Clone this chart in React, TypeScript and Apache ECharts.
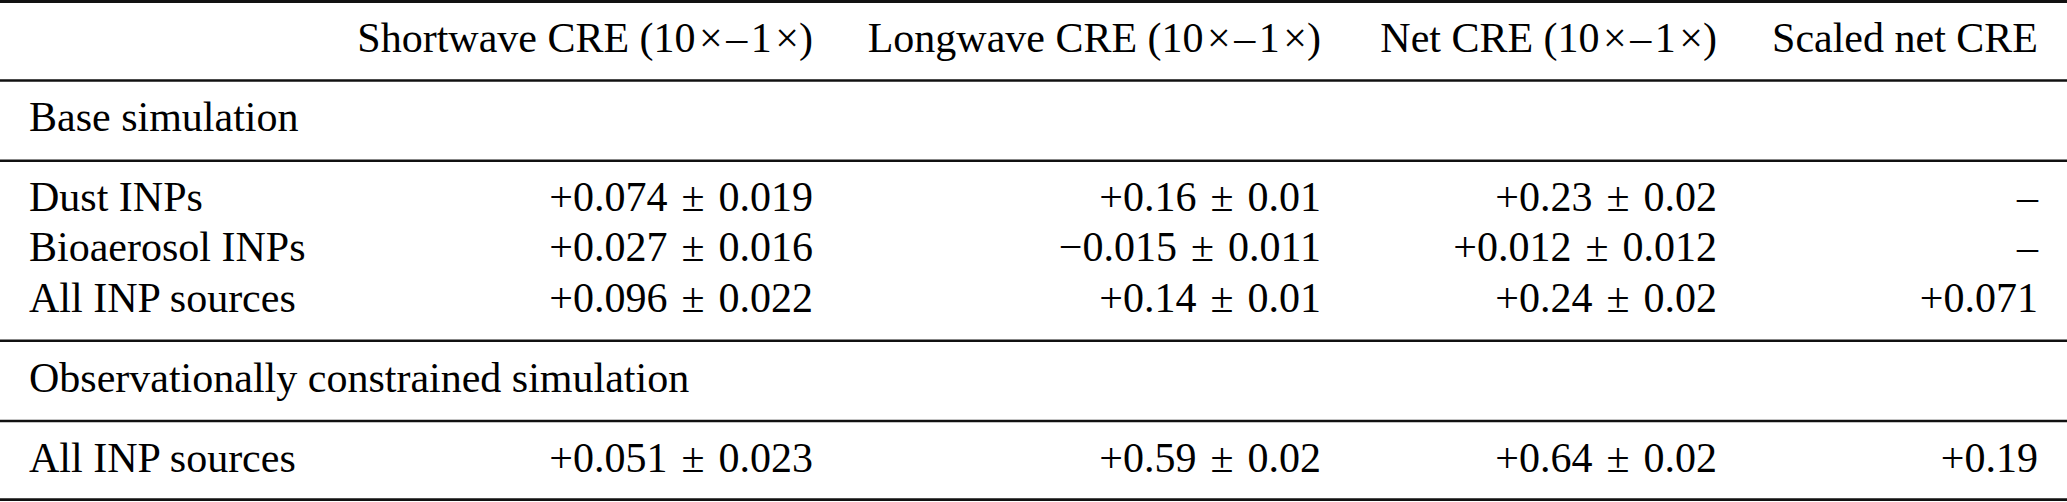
import React, { useEffect, useRef } from "react";
import * as echarts from "echarts";

// ---- Table content ----
const HS = "\u200A"; // hair space (math-style spacing)
const columnHeaders = [
  `Shortwave CRE (10${HS}×${HS}–${HS}1${HS}×)`,
  `Longwave CRE (10${HS}×${HS}–${HS}1${HS}×)`,
  `Net CRE (10${HS}×${HS}–${HS}1${HS}×)`,
  "Scaled net CRE",
];
const sectionTitles = ["Base simulation", "Observationally constrained simulation"];
const baseRowLabels = ["Dust INPs", "Bioaerosol INPs", "All INP sources"];
const obsRowLabels = ["All INP sources"];

const baseShortwaveMean = ["+0.074", "+0.027", "+0.096"];
const baseShortwaveErr = ["0.019", "0.016", "0.022"];
const baseLongwaveMean = ["+0.16", "−0.015", "+0.14"];
const baseLongwaveErr = ["0.01", "0.011", "0.01"];
const baseNetMean = ["+0.23", "+0.012", "+0.24"];
const baseNetErr = ["0.02", "0.012", "0.02"];
const baseScaled = ["–", "–", "+0.071"];

const obsShortwaveMean = ["+0.051"];
const obsShortwaveErr = ["0.023"];
const obsLongwaveMean = ["+0.59"];
const obsLongwaveErr = ["0.02"];
const obsNetMean = ["+0.64"];
const obsNetErr = ["0.02"];
const obsScaled = ["+0.19"];

// ---- Layout (positions / styles) ----
const W = 2067;
const H = 502;
const FONT = "'Liberation Serif', 'Times New Roman', Times, 'DejaVu Serif', serif";
const FS = 42;
const LABEL_X = 29;
const COL_RIGHT = [813, 1321, 1717, 2038];
const BASELINE_SHIFT = 14; // middle-anchored text -> baseline offset
const HEADER_BASE = 52;
const BASE_SECTION_BASE = 131;
const BASE_ROW_BASES = [211, 261, 311.5];
const OBS_SECTION_BASE = 392;
const OBS_ROW_BASES = [472];
const RULES = [
  { y: 1.5, w: 3 },
  { y: 80.5, w: 2.5 },
  { y: 160.7, w: 2.5 },
  { y: 340.7, w: 2.5 },
  { y: 421, w: 2.5 },
  { y: 499.7, w: 2.8 },
];

const pm = (m: string, e: string) => `${m} ${HS}±${HS} ${e}`;

function txt(s: string, x: number, baseline: number, align: "left" | "right") {
  return {
    type: "text",
    x,
    y: baseline - BASELINE_SHIFT,
    style: {
      text: s,
      fill: "#000",
      fontFamily: FONT,
      fontSize: FS,
      align,
      verticalAlign: "middle",
    },
    silent: true,
  };
}

export default function App() {
  const ref = useRef<HTMLDivElement>(null);

  useEffect(() => {
    document.body.style.margin = "0";
    if (!ref.current) return;
    const chart = echarts.init(ref.current, null, { renderer: "svg" });

    const elements: any[] = [];
    RULES.forEach((r) =>
      elements.push({
        type: "line",
        shape: { x1: 0, y1: r.y, x2: W, y2: r.y },
        style: { stroke: "#111", lineWidth: r.w },
        silent: true,
      })
    );

    columnHeaders.forEach((h, i) => elements.push(txt(h, COL_RIGHT[i], HEADER_BASE, "right")));

    elements.push(txt(sectionTitles[0], LABEL_X, BASE_SECTION_BASE, "left"));
    baseRowLabels.forEach((lab, r) => {
      const b = BASE_ROW_BASES[r];
      elements.push(txt(lab, LABEL_X, b, "left"));
      const cells = [
        pm(baseShortwaveMean[r], baseShortwaveErr[r]),
        pm(baseLongwaveMean[r], baseLongwaveErr[r]),
        pm(baseNetMean[r], baseNetErr[r]),
        baseScaled[r],
      ];
      cells.forEach((c, ci) => elements.push(txt(c, COL_RIGHT[ci], b, "right")));
    });

    elements.push(txt(sectionTitles[1], LABEL_X, OBS_SECTION_BASE, "left"));
    obsRowLabels.forEach((lab, r) => {
      const b = OBS_ROW_BASES[r];
      elements.push(txt(lab, LABEL_X, b, "left"));
      const cells = [
        pm(obsShortwaveMean[r], obsShortwaveErr[r]),
        pm(obsLongwaveMean[r], obsLongwaveErr[r]),
        pm(obsNetMean[r], obsNetErr[r]),
        obsScaled[r],
      ];
      cells.forEach((c, ci) => elements.push(txt(c, COL_RIGHT[ci], b, "right")));
    });

    chart.setOption({
      animation: false,
      backgroundColor: "#fff",
      graphic: { elements },
    });

    return () => chart.dispose();
  }, []);

  return <div ref={ref} style={{ width: W, height: H }} />;
}
